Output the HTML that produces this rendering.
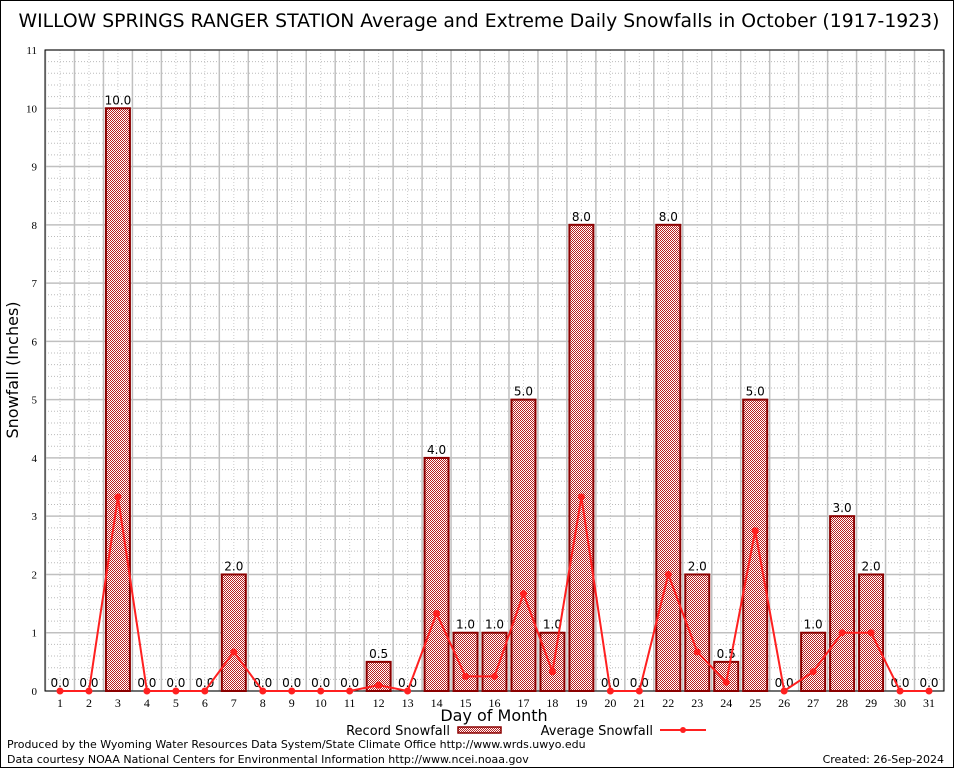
<!DOCTYPE html>
<html><head><meta charset="utf-8"><style>
body{margin:0;background:#fff}
svg text{font-family:"DejaVu Sans","Liberation Sans",sans-serif}
svg text.serif{font-family:"Liberation Serif","DejaVu Serif",serif}
</style></head><body>
<svg id="c" width="954" height="768" xmlns="http://www.w3.org/2000/svg">
<defs>
<pattern id="chk" width="2" height="2" patternUnits="userSpaceOnUse">
<rect width="2" height="2" fill="#fff"/><rect width="1" height="1" fill="#b82020"/><rect x="1" y="1" width="1" height="1" fill="#b82020"/>
</pattern>
</defs>
<rect x="0.5" y="0.5" width="953" height="767" fill="#fff" stroke="#000"/>
<text x="479" y="27" font-size="18.8" text-anchor="middle">WILLOW SPRINGS RANGER STATION Average and Extreme Daily Snowfalls in October (1917-1923)</text>
<g id="grid"></g>
<g id="bars"></g>
<g id="line"></g>
<text x="18" y="370" font-size="16" text-anchor="middle" transform="rotate(-90 18 370)">Snowfall (Inches)</text>
<text x="494" y="721" font-size="16" text-anchor="middle">Day of Month</text>
<g>
<text x="450" y="735" font-size="13" text-anchor="end">Record Snowfall</text>
<rect x="458" y="727" width="43" height="6" fill="url(#chk)" stroke="#8b0000" stroke-width="1.5"/>
</g>
<g>
<text x="653" y="735" font-size="13" text-anchor="end">Average Snowfall</text>
<line x1="660" y1="730" x2="706" y2="730" stroke="#ff2020" stroke-width="2"/>
<circle cx="683" cy="730" r="3" fill="#ff2020"/>
</g>
<text x="7" y="748" font-size="11">Produced by the Wyoming Water Resources Data System/State Climate Office http://www.wrds.uwyo.edu</text>
<text x="7" y="763" font-size="11">Data courtesy NOAA National Centers for Environmental Information http://www.ncei.noaa.gov</text>
<text x="944" y="763" font-size="11" text-anchor="end">Created:  26-Sep-2024</text>
</svg>
<script>
const days=[1,2,3,4,5,6,7,8,9,10,11,12,13,14,15,16,17,18,19,20,21,22,23,24,25,26,27,28,29,30,31];
const recordSnow=[0,0,10,0,0,0,2,0,0,0,0,0.5,0,4,1,1,5,1,8,0,0,8,2,0.5,5,0,1,3,2,0,0];
const avgSnow=[0,0,3.33,0,0,0,0.67,0,0,0,0,0.1,0,1.33,0.25,0.25,1.67,0.33,3.33,0,0,2,0.67,0.15,2.75,0,0.33,1,1,0,0];
const yTicks=[0,1,2,3,4,5,6,7,8,9,10,11];
const NS='http://www.w3.org/2000/svg';
const L=45,R=944,T=50,B=691;
const x=d=>60+(d-1)*(929-60)/30;
const y=v=>B-v*(B-T)/11;
function mk(t,a,p){const e=document.createElementNS(NS,t);for(const k in a)e.setAttribute(k,a[k]);p.appendChild(e);return e;}
const g=document.getElementById('grid');
for(let v=0.2;v<11;v+=0.2){if(Math.abs(v-Math.round(v))<0.01)continue;mk('line',{x1:L,x2:R,y1:y(v),y2:y(v),stroke:'#bbb','stroke-dasharray':'1,2','stroke-width':1},g);}
for(let d=1;d<=31;d++){mk('line',{x1:x(d),x2:x(d),y1:T,y2:B,stroke:'#ccc','stroke-dasharray':'1,2'},g);}
for(let d=0.5;d<=31.5;d+=1){mk('line',{x1:x(d),x2:x(d),y1:T,y2:B,stroke:'#c0c0c0','stroke-width':1.5},g);}
yTicks.forEach(v=>{
const ln=mk('line',{x1:L,x2:R,y1:y(v),y2:y(v),stroke:'#c0c0c0','stroke-width':1.5},g);


const t=mk('text',{x:L-8,y:y(v)+4,'font-size':11,'text-anchor':'end','class':'serif'},g);
t.textContent=v;


});
mk('rect',{x:L,y:T,width:R-L,height:B-T,fill:'none',stroke:'#000','stroke-width':1},g);
days.forEach(d=>{
const t=mk('text',{x:x(d),y:B+16,'font-size':12,'text-anchor':'middle','class':'serif'},g);
t.textContent=d;


});
const bg=document.getElementById('bars');
days.forEach((d,i)=>{
const v=recordSnow[i];
if(v>0){
const r=mk('rect',{x:x(d)-12,y:y(v),width:24,height:B-y(v),fill:'url(#chk)',stroke:'#8b0000','stroke-width':2},bg);


}
const t=mk('text',{x:x(d),y:y(v)-4,'font-size':12,'text-anchor':'middle'},bg);
t.textContent=v.toFixed(1);


});
const lg=document.getElementById('line');
const pl=mk('polyline',{points:days.map((d,i)=>x(d)+','+y(avgSnow[i])).join(' '),fill:'none',stroke:'#ff2020','stroke-width':2},lg);


days.forEach((d,i)=>{
const c=mk('circle',{cx:x(d),cy:y(avgSnow[i]),r:3.5,fill:'#ff2020'},lg);


});
</script>
</body></html>
